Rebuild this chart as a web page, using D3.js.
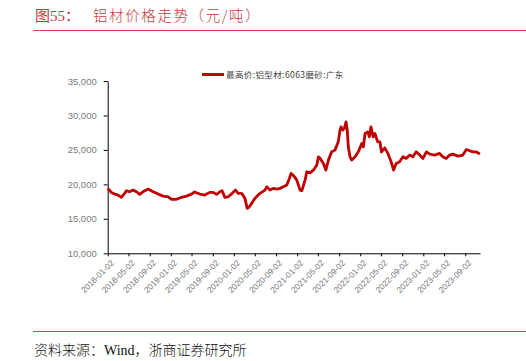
<!DOCTYPE html>
<html><head><meta charset="utf-8">
<script src="https://cdn.jsdelivr.net/npm/d3@7"></script>
<style>body{margin:0;background:#fff}svg{display:block}</style>
</head><body>
<svg id="c" width="526" height="361"></svg>
<script>
const dates = ["2018-01-02","2018-01-25","2018-02-13","2018-03-03","2018-03-22","2018-04-10","2018-04-20","2018-05-09","2018-05-28","2018-06-17","2018-07-06","2018-07-25","2018-08-24","2018-09-22","2018-10-21","2018-11-19","2018-12-18","2019-01-07","2019-02-05","2019-03-04","2019-04-03","2019-05-01","2019-05-20","2019-05-30","2019-06-19","2019-07-17","2019-08-15","2019-09-04","2019-09-24","2019-10-13","2019-10-26","2019-11-11","2019-11-30","2019-12-23","2020-01-12","2020-01-27","2020-02-16","2020-03-06","2020-03-19","2020-03-31","2020-04-14","2020-05-03","2020-06-01","2020-06-30","2020-07-10","2020-07-29","2020-08-17","2020-09-06","2020-09-25","2020-10-14","2020-11-03","2020-11-18","2020-11-28","2020-12-08","2020-12-21","2020-12-31","2021-01-19","2021-01-29","2021-02-17","2021-02-27","2021-03-18","2021-04-06","2021-04-26","2021-05-05","2021-05-15","2021-06-03","2021-06-17","2021-07-02","2021-07-21","2021-08-09","2021-08-28","2021-09-07","2021-09-13","2021-09-23","2021-10-02","2021-10-12","2021-10-19","2021-10-25","2021-11-04","2021-11-14","2021-12-03","2021-12-22","2022-01-11","2022-01-20","2022-01-30","2022-02-14","2022-02-24","2022-03-05","2022-03-18","2022-03-28","2022-04-13","2022-04-26","2022-05-05","2022-05-24","2022-06-11","2022-06-30","2022-07-14","2022-07-29","2022-08-18","2022-09-06","2022-09-25","2022-10-15","2022-11-03","2022-11-22","2022-12-12","2022-12-31","2023-01-20","2023-02-09","2023-03-08","2023-04-06","2023-04-25","2023-05-14","2023-06-03","2023-06-22","2023-07-21","2023-08-19","2023-09-08","2023-09-28","2023-10-17","2023-11-05","2023-11-25"];
const prices = [19420,18780,18590,18450,18120,18700,19070,18930,19170,18930,18550,18930,19320,18930,18590,18300,18200,17830,17830,18120,18300,18590,18900,18780,18600,18450,18840,18840,18550,18930,19070,18120,18200,18700,19170,18700,18700,17970,16520,16750,17250,17970,18700,19170,19650,19170,19420,19320,19420,19650,19900,20870,21590,21350,21000,20620,19170,19070,20620,21830,21680,22070,22800,24000,23770,23040,22070,23520,24720,24970,26170,27870,28350,27870,28120,29070,27870,25450,24000,23520,24000,24720,25940,25450,27390,27620,26900,28350,26900,27390,26170,26170,24700,25300,24490,23280,22070,23040,23280,24000,23770,24250,24000,24720,24250,23770,24720,24390,24250,24490,24000,23770,24250,24390,24100,24250,25070,24870,24720,24720,24390];
const xTickLabels = ["2018-01-02","2018-05-02","2018-09-02","2019-01-02","2019-05-02","2019-09-02","2020-01-02","2020-05-02","2020-09-02","2021-01-02","2021-05-02","2021-09-02","2022-01-02","2022-05-02","2022-09-02","2023-01-02","2023-05-02","2023-09-02"];
const yTicks = [10000,15000,20000,25000,30000,35000];
const seriesName = "最高价:铝型材:6063磨砂:广东";
const titleText = "图55：";
const titleText2 = "铝材价格走势（元/吨）";
const sourceText = "资料来源：Wind，浙商证券研究所";

const parse = d3.timeParse("%Y-%m-%d");
const data = dates.map((d,i)=>({date:parse(d), v:prices[i]}));
const svg = d3.select("#c");

// header / footer
svg.append("text").attr("x",35).attr("y",21).attr("fill","#c8383d")
  .attr("font-family","'Liberation Serif','Noto Sans CJK SC',serif").attr("font-size",15).text(titleText);
svg.append("text").attr("x",93).attr("y",21).attr("fill","#c8383d")
  .attr("font-family","'Noto Sans CJK SC',sans-serif").attr("font-size",14.5).attr("font-weight",300).attr("letter-spacing",1.6).text(titleText2);
svg.append("line").attr("x1",33).attr("x2",526).attr("y1",30.5).attr("y2",30.5).attr("stroke","#d0474c").attr("stroke-width",1);
svg.append("line").attr("x1",33).attr("x2",526).attr("y1",331.5).attr("y2",331.5).attr("stroke","#d0474c").attr("stroke-width",1);
svg.append("text").attr("x",34).attr("y",355).attr("fill","#111")
  .attr("font-family","'Liberation Serif','Noto Sans CJK SC',serif").attr("font-size",14).attr("font-weight",300).text(sourceText);

const x = d3.scaleTime().domain([parse("2018-01-02"), parse("2023-11-26")]).range([107.7, 480]);
const y = d3.scaleLinear().domain([10000,35000]).range([253.3, 81]);

const gx = svg.append("g").attr("transform","translate(0,253.3)")
  .call(d3.axisBottom(x).tickValues(xTickLabels.map(parse)).tickSize(3).tickSizeOuter(0).tickFormat(d3.timeFormat("%Y-%m-%d")));
gx.select(".domain").attr("stroke","#000");
gx.selectAll(".tick line").attr("stroke","#000");
gx.selectAll(".tick text").attr("font-family","'Liberation Sans',Arial,sans-serif").attr("font-size",8.3).attr("fill","#7a7a7a")
  .attr("text-anchor","end").attr("dx",0).attr("dy",0).attr("transform","translate(2,6) rotate(-45)");

const gy = svg.append("g").attr("transform","translate(107.7,0)")
  .call(d3.axisLeft(y).tickValues(yTicks).tickSize(4).tickSizeOuter(0).tickFormat(d3.format(",")).tickPadding(7));
gy.select(".domain").attr("stroke","#000");
gy.selectAll(".tick line").attr("stroke","#000");
gy.selectAll(".tick text").attr("font-family","'Liberation Sans',Arial,sans-serif").attr("font-size",9.5).attr("fill","#7a7a7a");

svg.append("path").datum(data).attr("fill","none").attr("stroke","#c00000").attr("stroke-width",2.8)
  .attr("stroke-linejoin","round").attr("d", d3.line().x(d=>x(d.date)).y(d=>y(d.v)));

// legend
svg.append("line").attr("x1",202).attr("x2",224).attr("y1",74.5).attr("y2",74.5).attr("stroke","#c00000").attr("stroke-width",3);
svg.append("text").attr("x",226).attr("y",78).attr("fill","#404040")
  .attr("font-family","'Noto Sans CJK SC',sans-serif").attr("font-size",8.5).attr("letter-spacing",0.4).text(seriesName);
</script>
</body></html>
